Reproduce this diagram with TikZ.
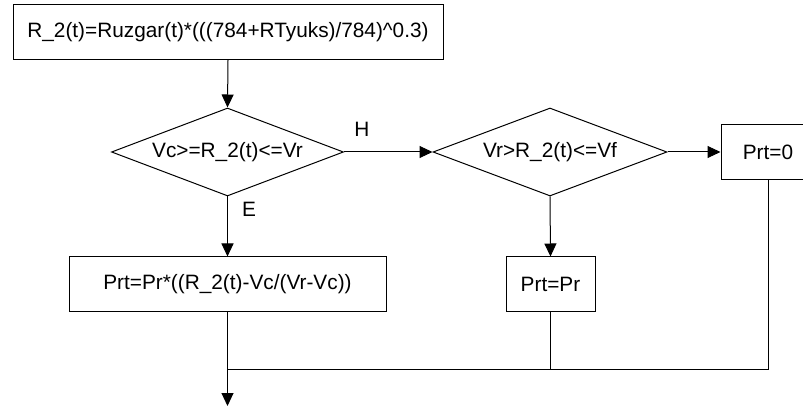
\documentclass[tikz,border=0pt]{standalone}
\usepackage{fontspec}
\setmainfont{Liberation Sans}
\usetikzlibrary{shapes.geometric,arrows.meta}
\begin{document}
\begin{tikzpicture}[x=1pt,y=-1pt,
  every node/.style={font=\fontsize{20.8}{25}\selectfont},
  box/.style={draw, line width=1pt, inner sep=0pt},
  dia/.style={draw, diamond, line width=1pt, inner sep=0pt},
  conn/.style={line width=1pt},
  arr/.style={conn, -{Triangle[length=13pt,width=12pt]}}]
\useasboundingbox (0,0) rectangle (803,411);
\clip (0,0) rectangle (803,411);
\node[box, minimum width=430pt, minimum height=55pt] (top) at (228,32) {R\_2(t)=Ruzgar(t)*(((784+RTyuks)/784)\^{}0.3)};
\node[dia, minimum width=232pt, minimum height=88pt, aspect=2.64] (d1) at (227.5,152) {Vc>=R\_2(t)<=Vr};
\node[dia, minimum width=234pt, minimum height=88pt, aspect=2.66] (d2) at (550,152) {Vr>R\_2(t)<=Vf};
\node[box, minimum width=94pt, minimum height=55pt] (p0) at (768,152) {Prt=0};
\node[box, minimum width=317pt, minimum height=55pt] (b1) at (227.5,284.5) {Prt=Pr*((R\_2(t)-Vc/(Vr-Vc))};
\node[box, minimum width=89pt, minimum height=55pt] (b2) at (550.5,284.5) {Prt=Pr};
\node (h) at (362,129) {H};
\node (e) at (249,209) {E};
\coordinate (j) at (227.5,370);
\coordinate (end) at (227.5,406);
\draw[arr] (top.south) -- (d1.north);
\draw[arr] (d1.east) -- (d2.west);
\draw[arr] (d2.east) -- (p0.west);
\draw[arr] (d1.south) -- (b1.north);
\draw[arr] (d2.south) -- (b2.north);
\draw[arr] (b1.south) -- (end);
\draw[conn] (b2.south) -- (b2.south |- j);
\draw[conn] (p0.south) |- (j);
\end{tikzpicture}
\end{document}
